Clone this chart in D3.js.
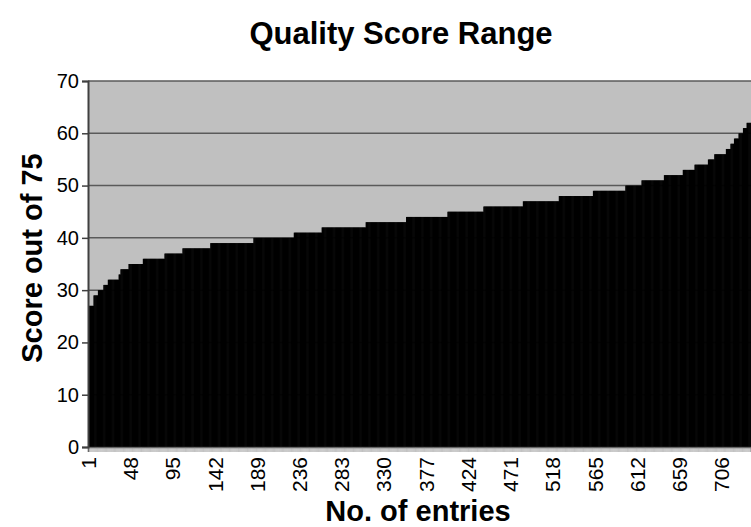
<!DOCTYPE html>
<html>
<head>
<meta charset="utf-8">
<script src="https://cdn.jsdelivr.net/npm/d3@7"></script>
<style>
body { margin: 0; background: #fff; }
text { font-family: "Liberation Sans", Arial, sans-serif; }
</style>
</head>
<body>
<div id="vis_canvas"></div>
<script>
//data: each score and how many entries got it (entries are sorted ascending)
var scores = [27, 29, 30, 31, 32, 33, 34, 35, 36, 37, 38, 39, 40, 41, 42, 43, 44, 45,
              46, 47, 48, 49, 50, 51, 52, 53, 54, 55, 56, 57, 58, 59, 60, 61, 62];
var counts = [6, 5, 6, 5, 12, 2, 9, 16, 24, 20, 31, 48, 45, 31, 49, 45, 46, 40,
              44, 40, 38, 36, 18, 25, 21, 13, 15, 7, 13, 5, 4, 5, 5, 4, 5];
var yTicks = [0, 10, 20, 30, 40, 50, 60, 70];
var labelEvery = 47;   // x labels: 1, 48, 95, ...
var chartTitle = "Quality Score Range";
var xTitle = "No. of entries";
var yTitle = "Score out of 75";

// one entry per bar
var entries = [];
scores.forEach(function(s, i) {
  for (var k = 0; k < counts[i]; k++) entries.push({ id: entries.length + 1, score: s });
});

var W = 751, H = 527;
var pLeft = 88, pRight = 751, pTop = 81, pBottom = 447;

var svg = d3.select("#vis_canvas").append("svg")
  .attr("width", W).attr("height", H);

var x = d3.scaleBand()
  .domain(entries.map(function(d) { return d.id; }))
  .range([pLeft, pRight])
  .padding(0);

var y = d3.scaleLinear().domain([0, 70]).range([pBottom, pTop]);

// plot background
svg.append("rect")
  .attr("x", pLeft).attr("y", pTop)
  .attr("width", pRight - pLeft).attr("height", pBottom - pTop)
  .attr("fill", "#c0c0c0");

// gridlines
svg.selectAll(".grid").data(yTicks.filter(function(t) { return t > 0; }))
  .enter().append("line")
  .attr("class", "grid")
  .attr("x1", pLeft).attr("x2", pRight)
  .attr("y1", function(d) { return y(d); })
  .attr("y2", function(d) { return y(d); })
  .attr("stroke", "#5a5a5a")
  .attr("stroke-width", 1.5);

// bars
var bars = svg.selectAll(".bar").data(entries);
bars.enter()
  .append("rect")
  .attr("class", "bar")
  .attr("x", function(d) { return x(d.id); })
  .attr("width", x.bandwidth() + 0.6)
  .attr("y", function(d) { return y(d.score); })
  .attr("height", function(d) { return y(0) - y(d.score); })
  .attr("fill", "#000");

// x axis with a tick for every entry
var xAxis = svg.append("g")
  .attr("transform", "translate(0," + pBottom + ")")
  .call(d3.axisBottom(x)
    .tickSize(5)
    .tickFormat(function(d) { return (d - 1) % labelEvery === 0 ? d : ""; }));
xAxis.select(".domain").attr("stroke", "#404040").attr("stroke-width", 1.5);
xAxis.selectAll(".tick line").attr("stroke", "#909090").attr("stroke-width", 0.5);
xAxis.selectAll(".tick text")
  .attr("transform", "rotate(-90)")
  .attr("x", -10).attr("y", 0).attr("dy", "0.35em")
  .style("text-anchor", "end")
  .style("font-size", "21px")
  .attr("fill", "#000");

// y axis
var yAxis = svg.append("g")
  .attr("transform", "translate(" + pLeft + ",0)")
  .call(d3.axisLeft(y).tickValues(yTicks).tickSize(6).tickPadding(3));
yAxis.select(".domain").attr("stroke", "#404040").attr("stroke-width", 2);
yAxis.selectAll(".tick line").attr("stroke", "#404040").attr("stroke-width", 1.5);
yAxis.selectAll(".tick text").style("font-size", "20px").attr("fill", "#000");

// titles
svg.append("text")
  .attr("x", 401).attr("y", 44)
  .attr("text-anchor", "middle")
  .style("font-size", "31px").style("font-weight", "bold")
  .text(chartTitle);

svg.append("text")
  .attr("x", 418).attr("y", 521)
  .attr("text-anchor", "middle")
  .style("font-size", "29px").style("font-weight", "bold")
  .text(xTitle);

svg.append("text")
  .attr("transform", "translate(42,258) rotate(-90)")
  .attr("text-anchor", "middle")
  .style("font-size", "29px").style("font-weight", "bold")
  .text(yTitle);
</script>
</body>
</html>
